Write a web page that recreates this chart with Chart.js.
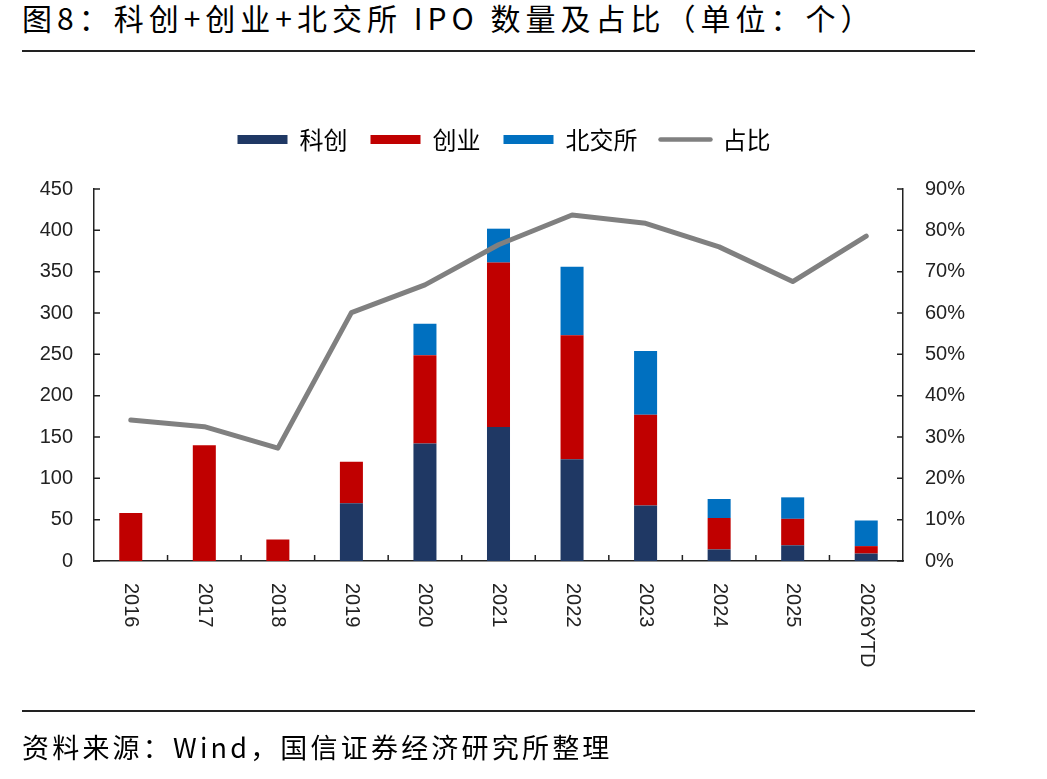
<!DOCTYPE html>
<html>
<head>
<meta charset="utf-8">
<script src="https://cdn.jsdelivr.net/npm/chart.js@4.4.1/dist/chart.umd.min.js"></script>
<style>
  body { margin: 0; background: #fff; width: 1047px; height: 779px; position: relative; overflow: hidden; font-family: "Noto Sans CJK SC", sans-serif; color: #000; }
  #title { position: absolute; left: 22px; top: -5px; font-size: 30px; letter-spacing: 5px; white-space: nowrap; }
  .rule { position: absolute; left: 22px; width: 953px; height: 2px; background: #222; }
  #source { position: absolute; left: 22px; top: 727px; font-size: 27px; letter-spacing: 3.2px; white-space: nowrap; }
  #chartBox { position: absolute; left: 0; top: 0; }
</style>
</head>
<body>
<div id="title">图8：科创+创业+北交所 IPO 数量及占比（单位：个）</div>
<div class="rule" style="top:50px"></div>
<div id="chartBox"><canvas id="ipoChart" width="1008" height="779"></canvas></div>
<div class="rule" style="top:710px"></div>
<div id="source">资料来源：Wind，国信证券经济研究所整理</div>

<script>
// values
const years = ['2016', '2017', '2018', '2019', '2020', '2021', '2022', '2023', '2024', '2025', '2026YTD'];
const kechuang = [0, 0, 0, 70, 142, 162, 123, 67, 14, 19, 9];
const chuangye = [58, 140, 26, 50, 107, 199, 150, 110, 38, 32, 9];
const beijiao = [0, 0, 0, 0, 38, 41, 83, 77, 23, 26, 31];
const ratio = [34.1, 32.5, 27.3, 60.1, 66.8, 76.5, 83.7, 81.7, 76.0, 67.6, 78.6];

const axisColor = '#222';
const tickFont = { family: '"Liberation Sans", Arial, sans-serif', size: 20 };

// add some room under the legend so the plot starts lower
const legendGap = {
  id: 'legendGap',
  beforeInit(chart) {
    const fit = chart.legend.fit;
    chart.legend.fit = function() {
      fit.bind(chart.legend)();
      this.height += 27.5;
    };
  }
};

// inward tick marks and the rotated year labels
const axisMarks = {
  id: 'axisMarks',
  afterDraw(chart) {
    const ctx = chart.ctx;
    const area = chart.chartArea;
    const x = chart.scales.x;
    const y = chart.scales.y;
    const y1 = chart.scales.y1;
    ctx.save();
    ctx.strokeStyle = axisColor;
    ctx.lineWidth = 1.5;
    ctx.beginPath();
    for (let i = 0; i < y.ticks.length; i++) {
      const py = y.getPixelForTick(i);
      ctx.moveTo(area.left, py);
      ctx.lineTo(area.left + 6, py);
    }
    for (let i = 0; i < y1.ticks.length; i++) {
      const py = y1.getPixelForTick(i);
      ctx.moveTo(area.right, py);
      ctx.lineTo(area.right - 6, py);
    }
    for (let i = 1; i < years.length; i++) {
      const px = (x.getPixelForValue(i - 1) + x.getPixelForValue(i)) / 2;
      ctx.moveTo(px, area.bottom);
      ctx.lineTo(px, area.bottom - 6);
    }
    ctx.stroke();

    ctx.fillStyle = axisColor;
    ctx.font = tickFont.size + 'px ' + tickFont.family;
    ctx.textAlign = 'left';
    ctx.textBaseline = 'middle';
    for (let i = 0; i < years.length; i++) {
      ctx.save();
      ctx.translate(x.getPixelForValue(i), area.bottom + 22);
      ctx.rotate(Math.PI / 2);
      ctx.fillText(years[i], 0, 0);
      ctx.restore();
    }
    ctx.restore();
  }
};

const ctx = document.getElementById('ipoChart');
const ipoChart = new Chart(ctx, {
  data: {
    labels: years,
    datasets: [
      { type: 'bar', label: '科创', data: kechuang, backgroundColor: '#1F3864', yAxisID: 'y', borderWidth: 0 },
      { type: 'bar', label: '创业', data: chuangye, backgroundColor: '#C00000', yAxisID: 'y', borderWidth: 0 },
      { type: 'bar', label: '北交所', data: beijiao, backgroundColor: '#0070C0', yAxisID: 'y', borderWidth: 0 },
      { type: 'line', label: '占比', data: ratio, yAxisID: 'y1', order: -1,
        borderColor: '#808080', backgroundColor: '#808080', borderWidth: 5,
        pointRadius: 0, tension: 0, borderCapStyle: 'round', borderJoinStyle: 'round' }
    ]
  },
  options: {
    responsive: false,
    animation: false,
    devicePixelRatio: 1,
    layout: { padding: { top: 104.5, left: 0, right: 0, bottom: 0 } },
    datasets: {
      bar: { barPercentage: 0.313, categoryPercentage: 1.0 }
    },
    plugins: {
      tooltip: { enabled: false },
      legend: {
        position: 'top',
        labels: {
          usePointStyle: true,
          pointStyleWidth: 50,
          boxHeight: 9,
          padding: 23,
          color: '#000',
          font: { family: '"Noto Sans CJK SC", sans-serif', size: 24 },
          generateLabels: function(chart) {
            const items = Chart.defaults.plugins.legend.labels.generateLabels(chart);
            items.forEach(function(item) {
              const ds = chart.data.datasets[item.datasetIndex];
              if (ds.type === 'line') {
                item.pointStyle = 'line';
                item.lineWidth = 4.5;
                item.lineCap = 'round';
                item.strokeStyle = ds.borderColor;
              } else {
                item.pointStyle = 'rect';
                item.lineWidth = 0;
              }
            });
            items.sort(function(a, b) { return a.datasetIndex - b.datasetIndex; });
            return items;
          }
        }
      }
    },
    scales: {
      x: {
        stacked: true,
        grid: { display: false, drawTicks: false },
        border: { display: true, color: axisColor, width: 1.5 },
        ticks: { display: false },
        afterFit: function(scale) { scale.height = 218; }
      },
      y: {
        position: 'left',
        stacked: true,
        min: 0,
        max: 450,
        grid: { display: false, drawTicks: false },
        border: { display: true, color: axisColor, width: 1.5 },
        ticks: { stepSize: 50, padding: 21, color: axisColor, font: tickFont },
        afterFit: function(scale) { scale.width = 94; }
      },
      y1: {
        position: 'right',
        min: 0,
        max: 90,
        grid: { display: false, drawTicks: false },
        border: { display: true, color: axisColor, width: 1.5 },
        ticks: {
          stepSize: 10, padding: 22, color: axisColor, font: tickFont,
          callback: function(value) { return value + '%'; }
        },
        afterFit: function(scale) { scale.width = 105; }
      }
    }
  },
  plugins: [legendGap, axisMarks]
});
</script>
</body>
</html>
